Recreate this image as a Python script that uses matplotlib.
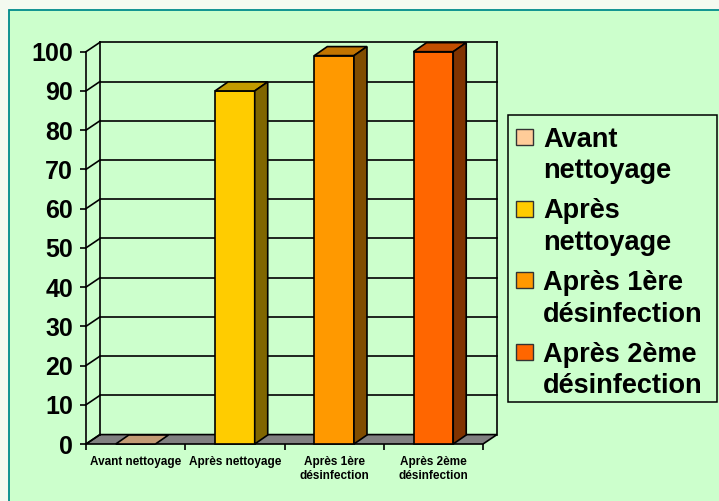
import matplotlib
matplotlib.use('Agg')
import matplotlib.pyplot as plt
from matplotlib.patches import Polygon, Rectangle
import numpy as np

categories = ['Avant nettoyage', 'Après nettoyage', 'Après 1ère\ndésinfection',
              'Après 2ème\ndésinfection']
legend_labels = ['Avant\nnettoyage', 'Après\nnettoyage', 'Après 1ère\ndésinfection',
                 'Après 2ème\ndésinfection']
values = [0, 90, 99, 100]
colors = ['#FFCC99', '#FFCC00', '#FF9900', '#FF6600']
y_ticks = list(range(0, 101, 10))


def shade(hex_color, f):
    c = np.array(matplotlib.colors.to_rgb(hex_color)) * f
    return tuple(c)


def main():
    plt.rcParams['font.family'] = ['Liberation Sans', 'DejaVu Sans']
    plt.rcParams['font.weight'] = 'bold'

    W, H = 719, 501
    fig = plt.figure(figsize=(W / 100, H / 100), dpi=100)
    fig.patch.set_facecolor('#F4FAF0')
    fig.add_artist(Rectangle((9 / W, -0.1), 1.0, 1.1 - 10 / H,
                             transform=fig.transFigure, facecolor='#CCFFCC',
                             edgecolor='#008B8B', lw=1.3, zorder=-5))

    ax = fig.add_axes([86 / W, 57 / H, 397 / W, 392.3 / H])
    ax.set_facecolor('none')
    ax.set_xlim(0, 4)
    ax.set_ylim(0, 100)
    for s in ['top', 'right', 'bottom']:
        ax.spines[s].set_visible(False)
    ax.spines['left'].set_linewidth(1.2)

    dx, dy = 0.141, 2.4   # depth of the 3D box in data units
    lw = 1.2
    n = len(categories)

    # floor
    ax.add_patch(Polygon([(0, 0), (n, 0), (n + dx, dy), (dx, dy)], closed=True,
                         facecolor='#808080', edgecolor='black', lw=lw,
                         clip_on=False, zorder=1))
    # walls: left diagonals and back gridlines
    for v in y_ticks:
        ax.plot([0, dx], [v, v + dy], color='black', lw=lw, clip_on=False, zorder=1)
        if v > 0:
            ax.plot([dx, n + dx], [v + dy, v + dy], color='black', lw=lw,
                    clip_on=False, zorder=1)
    ax.plot([dx, dx], [dy, 100 + dy], color='black', lw=lw, clip_on=False, zorder=1)
    ax.plot([n + dx, n + dx], [dy, 100 + dy], color='black', lw=lw,
            clip_on=False, zorder=1)

    # bars
    x = np.arange(n) + 0.5
    bw = 0.4
    bdx, bdy = 0.131, 2.3
    ax.bar(x, values, width=bw, color=colors, edgecolor='black', lw=lw,
           zorder=3, clip_on=False)
    for xi, v, c in zip(x, values, colors):
        x0, x1 = xi - bw / 2, xi + bw / 2
        ax.add_patch(Polygon([(x0, v), (x1, v), (x1 + bdx, v + bdy), (x0 + bdx, v + bdy)],
                             closed=True, facecolor=shade(c, 0.76), edgecolor='black',
                             lw=lw, clip_on=False, zorder=3))
        if v > 0:
            ax.add_patch(Polygon([(x1, 0), (x1 + bdx, bdy), (x1 + bdx, v + bdy), (x1, v)],
                                 closed=True, facecolor=shade(c, 0.5),
                                 edgecolor='black', lw=lw, clip_on=False, zorder=3))

    # ticks
    ax.set_yticks(y_ticks)
    ax.set_yticklabels([str(t) for t in y_ticks], fontsize=18, fontweight='bold')
    ax.tick_params(axis='y', direction='out', length=4.3, width=lw, pad=5)
    ax.set_xticks(np.arange(n + 1))
    ax.set_xticklabels([])
    ax.tick_params(axis='x', which='major', direction='out', length=4, width=lw)
    ax.set_xticks(x, minor=True)
    ax.set_xticklabels(categories, minor=True, fontsize=8.5, fontweight='bold')
    ax.tick_params(axis='x', which='minor', length=0, pad=9)

    # legend box
    fig.add_artist(Rectangle((508 / W, 1 - 402 / H), 209 / W, 287 / H,
                             transform=fig.transFigure, facecolor='#CCFFCC',
                             edgecolor='black', lw=1.1))
    for i, (lab, c) in enumerate(zip(legend_labels, colors)):
        top = 129 + 71.7 * i
        fig.add_artist(Rectangle((516 / W, 1 - (top + 16) / H), 17 / W, 16 / H,
                                 transform=fig.transFigure, facecolor=c,
                                 edgecolor='#333333', lw=1.0))
        for j, line in enumerate(lab.split('\n')):
            base = 146.7 + 71.7 * i + 31.6 * j
            fig.text(543 / W, 1 - base / H, line, fontsize=19.5, fontweight='bold',
                     ha='left', va='baseline')

    fig.savefig('out.png', dpi=100, facecolor=fig.get_facecolor())


if __name__ == '__main__':
    main()
